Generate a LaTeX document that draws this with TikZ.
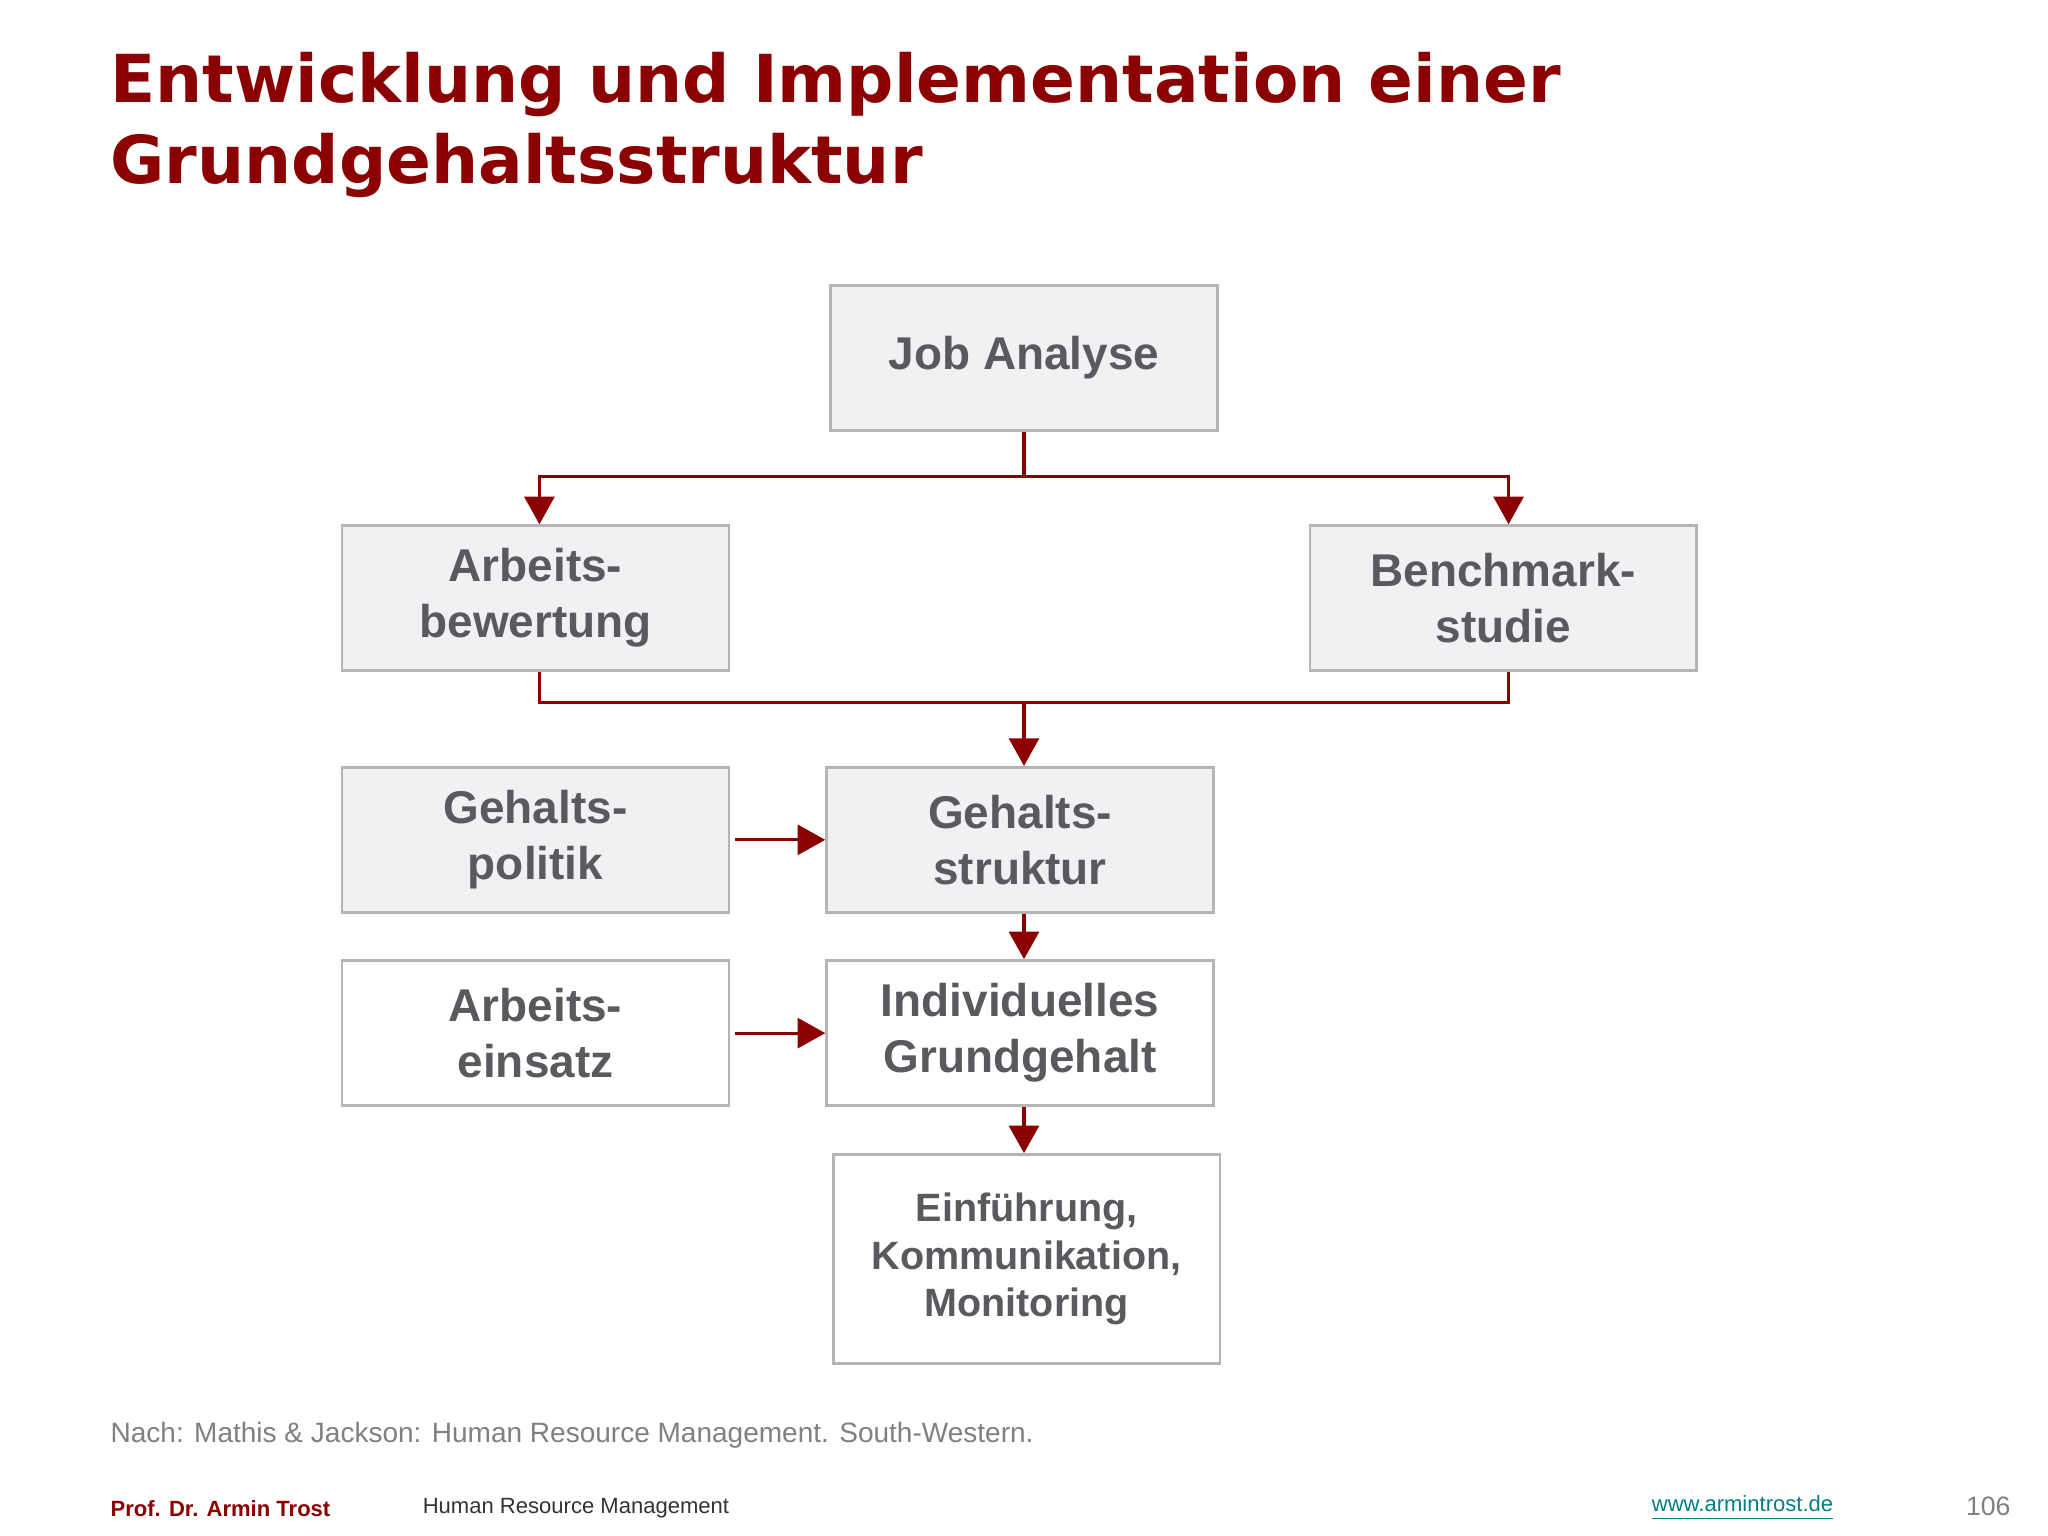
\documentclass[tikz,border=0pt]{standalone}
\usepackage{fontspec}
\setmainfont{Liberation Sans}
\newfontfamily\titlefont{DejaVu Sans}
\usetikzlibrary{arrows.meta}
\definecolor{dred}{HTML}{8B0000}
\definecolor{tgray}{HTML}{5A5A5E}
\definecolor{bfill}{HTML}{F1F0F3}
\definecolor{bline}{HTML}{B5B5B5}
\begin{document}
\begin{tikzpicture}[x=0.01cm,y=-0.01cm,
 box/.style={draw=bline,line width=0.6pt,minimum width=2.96cm,minimum height=1.11cm,align=center,text=tgray,font=\fontsize{10}{12.2}\selectfont\bfseries},
 shaded/.style={fill=bfill},
 conn/.style={dred,line width=0.7pt},
 arr/.style={conn,-{Triangle[length=6pt,width=6.5pt]}}]
\useasboundingbox (0,0) rectangle (1568,1176);
\node[anchor=north west,text=dred,font=\titlefont\fontsize{14.4}{17.8}\selectfont\bfseries,align=left,inner sep=0] (title) at (84,39) {Entwicklung und Implementation einer\\Grundgehaltsstruktur};
\node[box,shaded] (job) at (784,274) {Job Analyse};
\node[box,shaded] (ab) at (410,458) {Arbeits-\\bewertung};
\node[box,shaded] (bm) at (1151,458) {Benchmark-\\studie};
\node[box,shaded] (gp) at (410,643) {Gehalts-\\politik};
\node[box,shaded] (gs) at (781,643) {Gehalts-\\struktur};
\node[box,fill=white] (ae) at (410,791) {Arbeits-\\einsatz};
\node[box,fill=white] (ig) at (781,791) {Individuelles\\Grundgehalt};
\node[box,fill=white,minimum height=1.6cm,font=\fontsize{8.6}{10.4}\selectfont\bfseries] (ei) at (786,964) {Einführung,\\Kommunikation,\\Monitoring};
\coordinate (j1) at (784,365);
\coordinate (m1) at (784,538);
\coordinate (aL) at (413,0);
\coordinate (aR) at (1155,0);
\draw[conn] (job.south) -- (j1);
\draw[arr] (j1) -| (aL|-ab.north);
\draw[arr] (j1) -| (aR|-bm.north);
\draw[conn] (aL|-ab.south) |- (m1) -| (aR|-bm.south);
\draw[arr] (m1) -- (m1|-gs.north);
\draw[arr] ([xshift=1]gp.east) -- (gs.west);
\draw[arr] ([xshift=1]ae.east) -- (ig.west);
\draw[arr] (m1|-gs.south) -- (m1|-ig.north);
\draw[arr] (m1|-ig.south) -- (m1|-ei.north);
\node[anchor=west,text=gray,font=\fontsize{6.1}{7}\selectfont,inner sep=0] (src) at (84,1099) {Nach: Mathis \& Jackson: Human Resource Management. South-Western.};
\node[anchor=west,text=dred,font=\fontsize{4.8}{6}\selectfont\bfseries,inner sep=0] (prof) at (84,1155) {Prof. Dr. Armin Trost};
\node[anchor=west,text=black!80,font=\fontsize{4.8}{6}\selectfont,inner sep=0] (hrm) at (323,1155) {Human Resource Management};
\node[anchor=west,text=teal,font=\fontsize{4.8}{6}\selectfont,inner sep=0] (www) at (1264,1155) {\underline{www.armintrost.de}};
\node[anchor=east,text=gray,font=\fontsize{5.8}{7}\selectfont,inner sep=0] (pg) at (1540,1153) {106};
\end{tikzpicture}
\end{document}
